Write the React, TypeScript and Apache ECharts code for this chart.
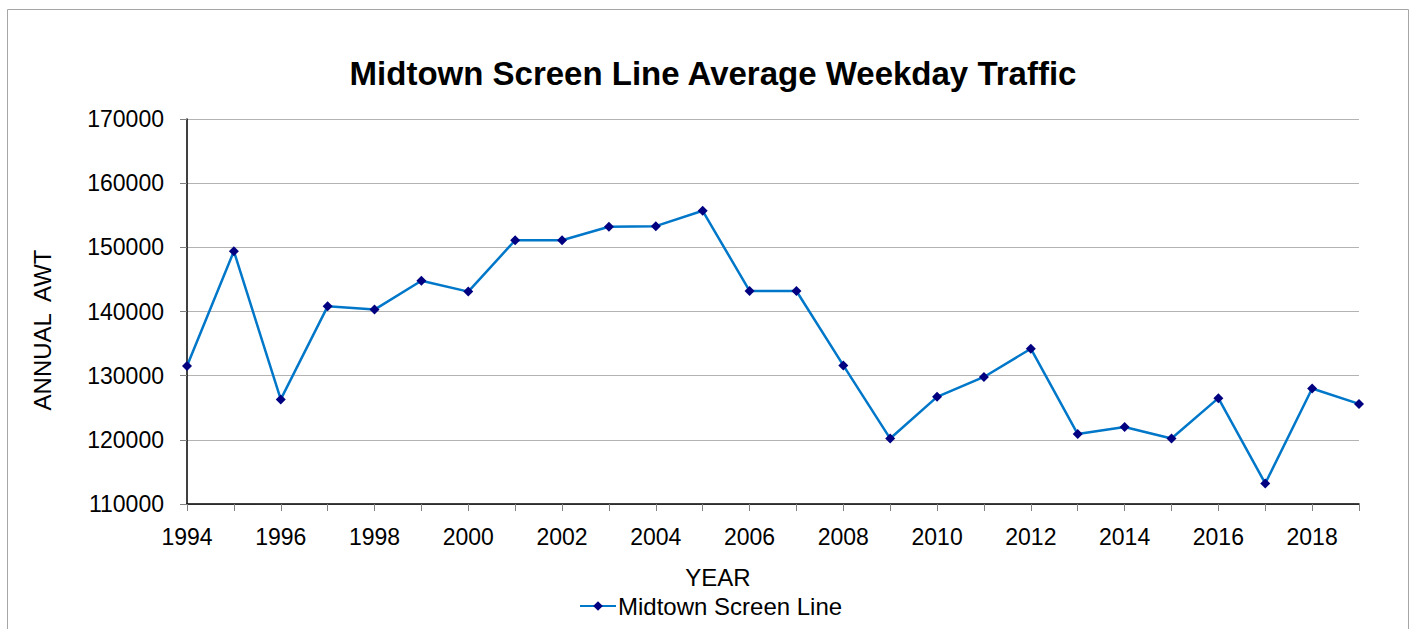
import React, { useEffect, useRef } from "react";
import * as echarts from "echarts";

const years = [
  "1994", "1995", "1996", "1997", "1998", "1999", "2000", "2001", "2002", "2003", "2004", "2005", "2006",
  "2007", "2008", "2009", "2010", "2011", "2012", "2013", "2014", "2015", "2016", "2017", "2018", "2019",
];
const midtownScreenLine = [
  131500, 149400, 126300, 140800, 140300, 144800, 143100, 151100, 151100, 153200, 153300, 155700, 143200,
  143200, 131600, 120200, 126700, 129800, 134200, 120900, 122000, 120200, 126500, 113200, 128000, 125600,
];
const seriesName = "Midtown Screen Line";
const chartTitle = "Midtown Screen Line Average Weekday Traffic";
const xAxisTitle = "YEAR";
const yAxisTitle = "ANNUAL  AWT";

const FONT = "Liberation Sans, Arial, sans-serif";

export default function App() {
  const ref = useRef<HTMLDivElement>(null);
  useEffect(() => {
    if (!ref.current) return;
    const chart = echarts.init(ref.current, null, { renderer: "svg" });
    chart.setOption({
      animation: false,
      backgroundColor: "#ffffff",
      textStyle: { fontFamily: FONT },
      grid: { left: 187, right: 54, top: 119, bottom: 125, containLabel: false },
      graphic: [
        {
          type: "rect",
          shape: { x: 7.5, y: 9.5, width: 1401, height: 700 },
          style: { fill: "none", stroke: "#a6a6a6", lineWidth: 1 },
          silent: true,
        },
        {
          type: "text",
          x: 713,
          y: 73,
          style: {
            text: chartTitle,
            font: `bold 33px ${FONT}`,
            fill: "#000",
            textAlign: "center",
            textVerticalAlign: "middle",
          },
        },
        {
          type: "text",
          x: 718,
          y: 577,
          style: {
            text: xAxisTitle,
            font: `24px ${FONT}`,
            fill: "#000",
            textAlign: "center",
            textVerticalAlign: "middle",
          },
        },
        {
          type: "text",
          x: 42,
          y: 330,
          rotation: Math.PI / 2,
          style: {
            text: yAxisTitle,
            font: `24px ${FONT}`,
            fill: "#000",
            textAlign: "center",
            textVerticalAlign: "middle",
          },
        },
      ],
      legend: {
        data: [seriesName],
        left: 574,
        top: 589,
        itemWidth: 36,
        itemHeight: 12,
        itemGap: 4,
        textStyle: { fontSize: 24, color: "#000", fontFamily: FONT, padding: [0, 0, 0, -3] },
      },
      xAxis: {
        type: "category",
        data: years,
        boundaryGap: false,
        axisLine: { lineStyle: { color: "#000", width: 1.5 } },
        axisTick: { show: true, interval: 0, length: 7, lineStyle: { color: "#808080" } },
        axisLabel: { interval: 1, fontSize: 23, color: "#000", margin: 21, fontFamily: FONT },
        splitLine: { show: false },
      },
      yAxis: {
        type: "value",
        min: 110000,
        max: 170000,
        interval: 10000,
        axisLine: { show: true, lineStyle: { color: "#000", width: 1.5 } },
        axisTick: { show: true, length: 7, lineStyle: { color: "#808080" } },
        axisLabel: {
          fontSize: 23,
          color: "#000",
          margin: 23,
          fontFamily: FONT,
          formatter: (v: number) => String(v),
        },
        splitLine: { show: true, lineStyle: { color: "#b3b3b3", width: 1 } },
      },
      series: [
        {
          name: seriesName,
          type: "line",
          data: midtownScreenLine,
          symbol: "diamond",
          symbolSize: 10,
          lineStyle: { color: "#0077C8", width: 2.5 },
          itemStyle: { color: "#000080" },
        },
      ],
    });
    return () => chart.dispose();
  }, []);
  return (
    <div
      ref={ref}
      style={{ position: "absolute", left: 0, top: 0, width: 1413, height: 629, background: "#fff" }}
    />
  );
}
